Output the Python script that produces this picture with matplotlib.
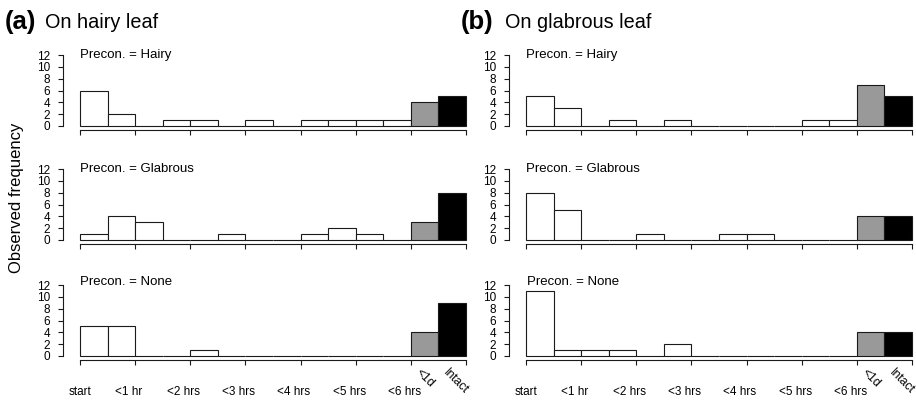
import matplotlib.pyplot as plt
import numpy as np

plt.rcParams['font.family'] = ['Liberation Sans', 'DejaVu Sans']

# time classes along the x axis
time_labels = ["start", "<1 hr", "<2 hrs", "<3 hrs", "<4 hrs", "<5 hrs", "<6 hrs"]
late_labels = ["<1d", "Intact"]
precon = ["Hairy", "Glabrous", "None"]
leaf_titles = ["On hairy leaf", "On glabrous leaf"]
letters = ["(a)", "(b)"]

# counts per half-hour bin (12 bins), then <1d and intact
hairy_on_hairy = [6, 2, 0, 1, 1, 0, 1, 0, 1, 1, 1, 1, 4, 5]
glab_on_hairy = [1, 4, 3, 0, 0, 1, 0, 0, 1, 2, 1, 0, 3, 8]
none_on_hairy = [5, 5, 0, 0, 1, 0, 0, 0, 0, 0, 0, 0, 4, 9]
hairy_on_glab = [5, 3, 0, 1, 0, 1, 0, 0, 0, 0, 1, 1, 7, 5]
glab_on_glab = [8, 5, 0, 0, 1, 0, 0, 1, 1, 0, 0, 0, 4, 4]
none_on_glab = [11, 1, 1, 1, 0, 2, 0, 0, 0, 0, 0, 0, 4, 4]

counts = [[hairy_on_hairy, glab_on_hairy, none_on_hairy],
          [hairy_on_glab, glab_on_glab, none_on_glab]]

W, H = 916, 401
fig = plt.figure(figsize=(W / 100, H / 100), dpi=100)

col_x = [80, 526]          # pixel left of data region
row_top = [55, 169, 285]   # pixel of y=12
pw, ph = 386, 71

colors = ['white'] * 12 + ['#999999', 'black']
edges = np.arange(14) * 0.5

for c in range(2):
    fig.text(5 / W + c * 456 / W, 1 - 28.5 / H, letters[c], fontsize=18.5,
             fontweight='bold', va='baseline')
    fig.text(45 / W + c * 460 / W, 1 - 28 / H, leaf_titles[c], fontsize=14.3,
             va='baseline')
    for r in range(3):
        ax = fig.add_axes([col_x[c] / W, 1 - (row_top[r] + ph) / H, pw / W, ph / H])
        ax.bar(edges, counts[c][r], width=0.5, align='edge', color=colors,
               edgecolor='#1a1a1a', linewidth=0.8, clip_on=False)
        ax.set_xlim(0, 7)
        ax.set_ylim(0, 12)
        for s in ['top', 'right']:
            ax.spines[s].set_visible(False)
        ax.spines['left'].set_position(('outward', 12.2))
        ax.spines['bottom'].set_position(('outward', 2.9))
        ax.spines['left'].set_bounds(0, 12)
        ax.spines['bottom'].set_bounds(0, 7)
        for s in ['left', 'bottom']:
            ax.spines[s].set_linewidth(0.8)
            ax.spines[s].set_color('#1a1a1a')
        ax.set_yticks(range(0, 13, 2))
        ax.set_xticks(range(8))
        ax.set_xticklabels([])
        ax.tick_params(direction='out', length=3.6, width=0.8, color='#1a1a1a',
                       labelsize=8.5, pad=5)
        ax.tick_params(axis='y', pad=5.5)
        ty = 12 if r < 2 else 12.5
        ax.text(0.02 * (r == 2 and c == 1), ty, "Precon. = " + precon[r],
                fontsize=9.5, va='center', ha='left')
        if r == 2:
            for i, lab in enumerate(time_labels):
                xpos = i - 0.12 * (i > 0)
                ax.annotate(lab, xy=(xpos, 0), xycoords=('data', 'axes fraction'),
                            xytext=(0, -26), textcoords='offset points',
                            ha='center', va='center', fontsize=8.5)
            for i, lab in enumerate(late_labels):
                ax.annotate(lab, xy=(6.05 + 0.5 * i, 0), xycoords=('data', 'axes fraction'),
                            xytext=(0, -7.5), textcoords='offset points',
                            ha='left', va='top', rotation=-45, fontsize=8.8)

fig.text(17 / W, 1 - 198 / H, "Observed frequency", rotation=90, fontsize=12,
         ha='center', va='center')

fig.savefig('out.png', dpi=100)
